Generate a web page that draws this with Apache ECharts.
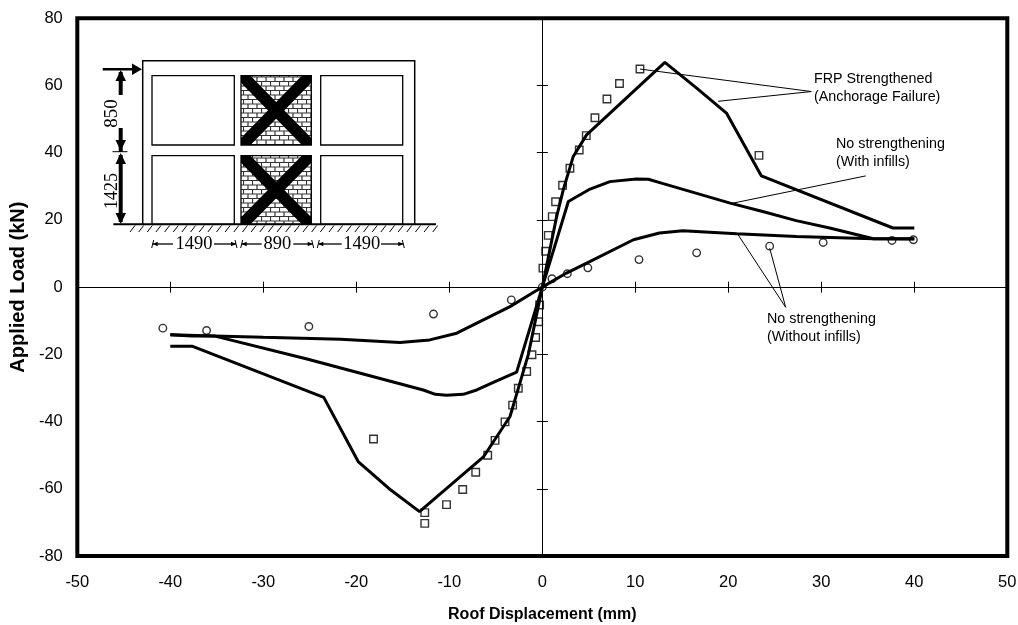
<!DOCTYPE html>
<html><head><meta charset="utf-8">
<style>html,body{margin:0;padding:0;background:#fff}#c{width:1018px;height:625px}</style>
<script src="https://cdn.jsdelivr.net/npm/echarts@6/dist/echarts.min.js"></script></head>
<body><div id="c"></div>
<script>
const xTicks=[-50,-40,-30,-20,-10,0,10,20,30,40,50];
const yTicks=[-80,-60,-40,-20,0,20,40,60,80];
const frpCurve=[[-40,-17.6],[-37.6,-17.6],[-23.5,-32.8],[-19.8,-51.9],[-16.5,-59.9],[-13.2,-66.8],[-6.3,-50.4],[-3.47,-38.5],[-1.5,-20],[0,0],[1.54,21],[2.26,29],[3.33,38.9],[4.76,45.3],[13.18,66.9],[16.6,59.2],[19.8,51.8],[23.56,33.1],[37.7,17.6],[40,17.6]];
const infillCurve=[[-40,-14.2],[-37.7,-14.5],[-35.3,-14.5],[-25.3,-21.4],[-12.8,-30.6],[-11.5,-31.9],[-10.3,-32.2],[-8.5,-31.9],[-7.05,-30.6],[-4.9,-27.9],[-2.76,-25.3],[0,0],[2.8,25.5],[5,29],[7.27,31.4],[10.1,32.2],[11.4,32.1],[13,30.8],[20.2,25],[23.7,22.5],[27.3,19.8],[30.9,17.6],[35.6,14.4],[40,14.4]];
const bareCurve=[[-40,-14.2],[-35.3,-14.5],[-30,-14.9],[-21.7,-15.5],[-15.3,-16.5],[-12.1,-15.7],[-9.2,-13.7],[-3.47,-5.8],[-0.8,-1.3],[0,0],[2.6,4.2],[5.1,7.6],[9.8,14.1],[12.6,16.1],[15.1,16.8],[20.9,15.9],[27.3,15.1],[35.6,14.4],[40,14.3]];
const frpTest=[[10.5,64.9],[8.3,60.6],[6.95,56],[5.66,50.4],[4.73,45.1],[3.97,40.8],[2.97,35.4],[2.18,30.3],[1.43,25.4],[1.07,21],[0.64,15.4],[0.36,10.7],[0.07,5.65],[23.3,39.2],[-0.29,-5.3],[-0.39,-10.3],[-0.72,-15],[-1.11,-20.1],[-1.68,-25.1],[-2.58,-30.1],[-3.19,-35.1],[-4.01,-40.1],[-5.08,-45.6],[-5.87,-50],[-7.16,-55.1],[-8.56,-60.2],[-10.3,-64.7],[-12.64,-67.1],[-12.64,-70.3],[-18.15,-45.2]];
const bareTest=[[1.04,2.5],[2.69,4],[4.9,5.75],[10.4,8.2],[16.6,10.2],[24.45,12.2],[30.2,13.3],[37.6,13.9],[39.9,14.1],[-40.8,-12.2],[-36.1,-12.9],[-25.1,-11.7],[-11.7,-8],[-3.33,-3.8],[0,0]];
const frpLeader=[[10.5,64.9],[28.93,58.2],[18.9,55.3]];
const infillLeader=[[20.5,25],[34.77,33.1]];
const bareLeader=[[21.05,15.6],[26.17,-6],[24.45,11.6]];

const F='"Liberation Sans",Arial,sans-serif', S='"Liberation Serif","Times New Roman",serif';
function brick(){const c=document.createElement('canvas');c.width=9;c.height=9;const g=c.getContext('2d');
 g.fillStyle='#fff';g.fillRect(0,0,9,9);g.strokeStyle='#333';g.lineWidth=1.2;g.beginPath();
 g.moveTo(0,.5);g.lineTo(9,.5);g.moveTo(0,5);g.lineTo(9,5);
 g.moveTo(.5,0);g.lineTo(.5,4.5);g.moveTo(5,4.5);g.lineTo(5,9);g.stroke();return c;}
const pat={image:brick(),repeat:'repeat'};
const G=[];
const line=(pts,w)=>G.push({type:'polyline',shape:{points:pts},style:{stroke:'#000',lineWidth:w||1.5,fill:null},z:10});
const rect=(x,y,w,h,fill)=>G.push({type:'rect',shape:{x,y,width:w,height:h},style:{stroke:'#000',lineWidth:1.3,fill:fill||'#fff'},z:10});
const poly=(pts)=>G.push({type:'polygon',shape:{points:pts},style:{fill:'#000'},z:11});
const txt=(x,y,t,font,size,rot,align,lh)=>G.push({type:'text',x,y,rotation:rot||0,z:12,style:{text:t,font:size+'px '+font,fill:'#000',align:align||'left',verticalAlign:'middle',lineHeight:lh||19}});
// inset frame
G.push({type:'polyline',shape:{points:[[142.7,224],[142.7,60.7],[414.7,60.7],[414.7,224]]},style:{stroke:'#000',lineWidth:1.5,fill:null},z:10});
[[75.7,69.3],[155.7,68.6]].forEach(([y,h])=>{
 rect(152,y,82.3,h);rect(320.7,y,82,h);rect(241,y,70.3,h,pat);
 const x0=241,x1=311.3,y1=y+h,d=9.5,e=7;
 poly([[x0,y],[x0+d,y],[x1,y1-e],[x1,y1],[x1-d,y1],[x0,y+e]]);
 poly([[x1,y],[x1-d,y],[x0,y1-e],[x0,y1],[x0+d,y1],[x1,y+e]]);
});
// ground
line([[113.3,224.3],[436,224.3]],2);
for(let i=0;i<36;i++){const x=130+i*8.65;line([[x+5,225.5],[x,232]],1);}
// load arrow
line([[102.7,69.3],[135,69.3]],2.6);poly([[132,63.5],[142,69.3],[132,75]]);
// vertical dims
line([[120.7,72],[120.7,95]],4);poly([[115.5,81],[120.7,70],[126,81]]);
line([[120.7,128],[120.7,152]],4);poly([[115.5,140],[120.7,151],[126,140]]);
line([[112.5,151.7],[127.5,151.7]],1);
line([[120.7,155],[120.7,222]],4);poly([[115.5,164],[120.7,153],[126,164]]);poly([[115.5,213],[120.7,224],[126,213]]);
txt(112.5,113.5,'850',S,19,Math.PI/2,'center');txt(112.5,191,'1425',S,18,Math.PI/2,'center');
// horizontal dims
const hd=[[152.7,173],[214,236],[241.7,261.7],[293.3,312.7],[318.3,341.7],[381,403.3]];
hd.forEach(([a,b],i)=>{line([[a,244],[b,244]],1.3);
 const e=i%2?b:a,s=i%2?-1:1;poly([[e,244],[e+5*s,241.8],[e+5*s,246.2]]);line([[e+1*s,240],[e-1*s,248]],1);});
txt(194,244.5,'1490',S,18.5,0,'center');txt(277.3,244.5,'890',S,18.5,0,'center');txt(361.7,244.5,'1490',S,18.5,0,'center');
// annotations
txt(814,88.5,'FRP Strengthened\n(Anchorage Failure)',F,14.3,0,'left',18);
txt(836,153,'No strengthening\n(With infills)',F,14.3,0,'left',18);
txt(767,328,'No strengthening\n(Without infills)',F,14.3,0,'left',18);

const hiddenX={show:false},lbl={fontFamily:F,fontSize:16.5,color:'#000'};
const xBase={type:'value',min:-50,max:50,interval:10,splitLine:hiddenX};
const yBase={type:'value',min:-80,max:80,interval:20,splitLine:hiddenX};
const zeroLine={show:true,onZero:true,onZeroAxisIndex:0,lineStyle:{color:'#000',width:1}};
const tick=(inside)=>({show:true,inside,length:5.5,lineStyle:{color:'#000',width:1}});
const cur=(name,data)=>({name,type:'line',data,showSymbol:false,symbol:'none',lineStyle:{color:'#000',width:3},z:4,animation:false});
const lead=(data)=>({type:'line',data,symbol:'none',lineStyle:{color:'#000',width:1},z:3,animation:false,silent:true});
const pts=(name,data,symbol)=>({name,type:'scatter',data,symbol,symbolSize:7.5,itemStyle:{color:'rgba(255,255,255,0)',borderColor:'#000',borderWidth:1.4},z:5,animation:false});
const chart=echarts.init(document.getElementById('c'));
chart.setOption({backgroundColor:'#fff',animation:false,
 grid:{left:77.3,right:10.7,top:18.3,bottom:69,outerBoundsMode:'none',show:true,borderColor:'#000',borderWidth:4,backgroundColor:'#fff'},
 xAxis:[
  {...xBase,position:'bottom',axisLine:{show:false,onZero:false},axisTick:{show:false},axisLabel:{...lbl,margin:18},
   name:'Roof Displacement (mm)',nameLocation:'middle',nameGap:51,nameTextStyle:{fontFamily:F,fontSize:16,fontWeight:'bold',color:'#000'}},
  {...xBase,axisLine:zeroLine,axisTick:tick(true),axisLabel:{show:false}},
  {...xBase,axisLine:zeroLine,axisTick:tick(false),axisLabel:{show:false}}],
 yAxis:[
  {...yBase,position:'left',axisLine:{show:false,onZero:false},axisTick:{show:false},axisLabel:{...lbl,margin:14.5},
   name:'Applied Load (kN)',nameLocation:'middle',nameGap:48,nameTextStyle:{fontFamily:F,fontSize:20,fontWeight:'bold',color:'#000'}},
  {...yBase,axisLine:zeroLine,axisTick:tick(true),axisLabel:{show:false}},
  {...yBase,axisLine:zeroLine,axisTick:tick(false),axisLabel:{show:false}}],
 series:[lead(frpLeader),lead(infillLeader),lead(bareLeader),
  cur('FRP Strengthened',frpCurve),cur('No strengthening (With infills)',infillCurve),cur('No strengthening (Without infills)',bareCurve),
  pts('FRP test',frpTest,'rect'),pts('Bare test',bareTest,'circle')],
 graphic:G});
</script></body></html>
